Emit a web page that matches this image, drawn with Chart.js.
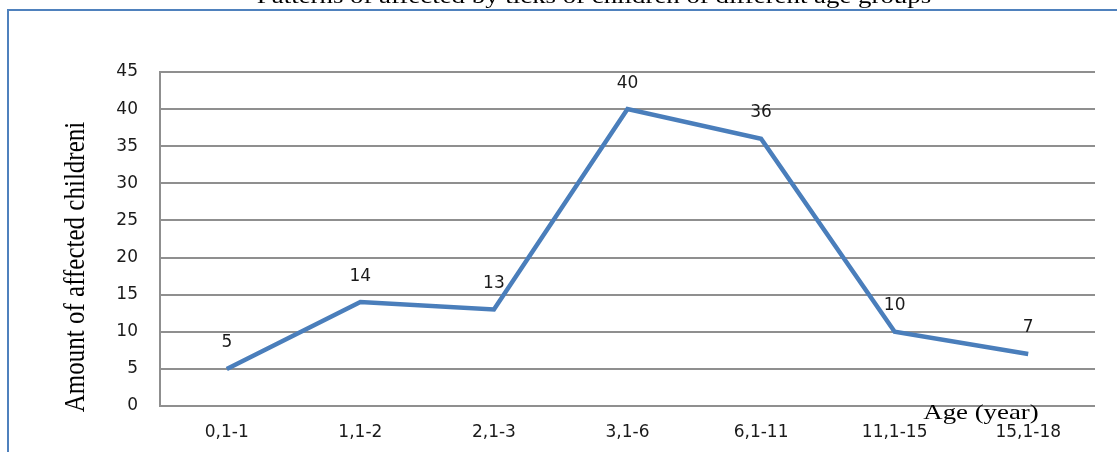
<!DOCTYPE html>
<html lang="en">
<head>
  <meta charset="UTF-8" />
  <title>Ticks by age group</title>
  <script src="https://cdn.jsdelivr.net/npm/chart.js"></script>
  <style>
    body {
      margin: 0;
      padding: 0;
      background: #fff;
      overflow: hidden;
    }
    canvas {
      display: block;
    }
  </style>
</head>
<body>
  <canvas id="lineChart" width="1117" height="452"></canvas>

<script>
  const ageGroups = ['0,1-1', '1,1-2', '2,1-3', '3,1-6', '6,1-11', '11,1-15', '15,1-18'];
  const affectedChildren = [5, 14, 13, 40, 36, 10, 7];
  const yMin = 0;
  const yMax = 45;
  const yStep = 5;

  const chartTitle = 'Patterns of affected by ticks of children of different age groups';
  const yTitle = 'Amount of affected childreni';
  const xTitle = 'Age (year)';

  const tickFont = { family: 'DejaVu Sans', size: 17 };
  const serif = '"Liberation Serif", "Times New Roman", serif';
  // the original picture is stretched sideways a bit
  const stretch = 1.22;

  function wideText(ctx, text, x, y) {
    ctx.save();
    ctx.translate(x, y);
    ctx.scale(stretch, 1);
    ctx.fillText(text, 0, 0);
    ctx.restore();
  }

  // frame, cut-off title and the two axis titles
  const decor = {
    id: 'decor',
    beforeDraw(chart) {
      const ctx = chart.ctx;
      ctx.save();
      ctx.strokeStyle = '#4f81bd';
      ctx.lineWidth = 2;
      ctx.strokeRect(8, 10, 1200, 600);
      ctx.restore();
    },
    afterDraw(chart) {
      const ctx = chart.ctx;
      ctx.save();
      ctx.fillStyle = '#000';
      ctx.font = '22px ' + serif;
      ctx.textAlign = 'center';
      ctx.textBaseline = 'alphabetic';
      wideText(ctx, chartTitle, 594, 3);
      wideText(ctx, xTitle, 981, 419);

      ctx.font = '25px ' + serif;
      ctx.translate(84, 267);
      ctx.scale(stretch, 1);
      ctx.rotate(-Math.PI / 2);
      ctx.fillText(yTitle, 0, 0);
      ctx.restore();
    },
    afterDatasetsDraw(chart) {
      const ctx = chart.ctx;
      const meta = chart.getDatasetMeta(0);
      ctx.save();
      ctx.fillStyle = '#1a1a1a';
      ctx.font = '17px "DejaVu Sans"';
      ctx.textAlign = 'center';
      ctx.textBaseline = 'middle';
      meta.data.forEach((pt, i) => {
        ctx.fillText(String(affectedChildren[i]), pt.x, pt.y - 26);
      });
      ctx.restore();
    }
  };

  const ctx = document.getElementById('lineChart').getContext('2d');

  new Chart(ctx, {
    type: 'line',
    data: {
      labels: ageGroups,
      datasets: [{
        label: 'Affected children',
        data: affectedChildren,
        borderColor: '#4a7ebb',
        borderWidth: 4.5,
        pointRadius: 0,
        tension: 0,
        fill: false
      }]
    },
    options: {
      responsive: false,
      animation: false,
      layout: {
        padding: { left: 10, top: 72, right: 22, bottom: 10 }
      },
      plugins: {
        legend: { display: false },
        tooltip: { enabled: false }
      },
      scales: {
        x: {
          offset: true,
          grid: { display: false, drawTicks: false },
          border: { display: false },
          ticks: {
            color: '#1a1a1a',
            font: tickFont,
            padding: 16,
            maxRotation: 0,
            autoSkip: false
          },
          afterFit(scale) { scale.height = 36; }
        },
        y: {
          min: yMin,
          max: yMax,
          grid: {
            color: '#8f8f8f',
            lineWidth: 2,
            drawTicks: false
          },
          border: { display: true, color: '#8f8f8f', width: 2 },
          ticks: {
            stepSize: yStep,
            color: '#1a1a1a',
            font: tickFont,
            padding: 22
          },
          afterFit(scale) { scale.width = 150; }
        }
      }
    },
    plugins: [decor]
  });
</script>

</body>
</html>
